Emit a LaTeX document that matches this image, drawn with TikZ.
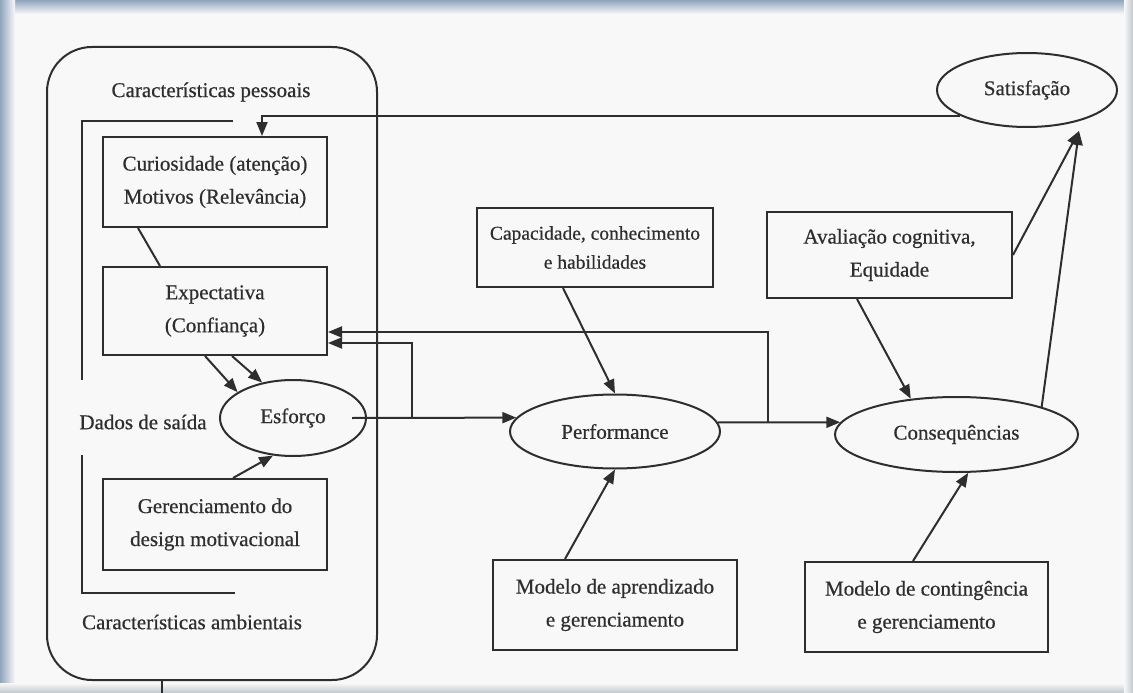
\documentclass[tikz,border=0pt]{standalone}
\usepackage{fontspec}
\setmainfont{Liberation Serif}[FakeBold=0.6]
\usetikzlibrary{shapes.geometric,arrows.meta,calc}
\definecolor{ink}{HTML}{2E2E2E}
\definecolor{paper}{HTML}{F8F8F8}
\definecolor{edgeblue}{HTML}{8FA5BE}
\definecolor{edgegray}{HTML}{C2C7CD}
\begin{document}
\begin{tikzpicture}[x=1pt,y=-1pt,
  ln/.style={draw=ink,line width=2pt},
  arr/.style={ln,-{Triangle[length=14pt,width=11pt]}},
  box/.style={draw=ink,line width=2pt,rectangle,align=center,inner sep=0pt,text=ink,font=\fontsize{21}{33}\selectfont},
  oval/.style={draw=ink,line width=2pt,ellipse,inner sep=0pt,text=ink,font=\fontsize{21}{25}\selectfont},
  lbl/.style={text=ink,inner sep=0pt,font=\fontsize{21}{25}\selectfont}]
\useasboundingbox (0,0) rectangle (1133,693);
% page frame
\fill[paper] (0,0) rectangle (1133,693);
\shade[top color=edgeblue,bottom color=paper] (0,0) rectangle (1133,14);
\shade[left color=edgeblue,right color=paper] (0,0) rectangle (15,693);
\shade[top color=paper,bottom color=edgegray] (0,683) rectangle (1133,693);
\shade[left color=paper,right color=edgegray] (1124,0) rectangle (1133,693);

% container
\node[draw=ink,line width=2pt,rounded corners=45pt,minimum width=330pt,minimum height=633pt,inner sep=0pt] (outer) at (212,363.5) {};
\draw[ln] ([xshift=-50pt]outer.south) -- ++(0,13);
\draw[ln] (233,121) -- (82,121) -- (82,380);
\draw[ln] (82,455) -- (82,593) -- (235,593);

\node[lbl] (pess) at (211,92) {Características pessoais};
\node[lbl] (amb) at (192,622) {Características ambientais};
\node[lbl] (dados) at (143,422) {Dados de saída};

% boxes
\node[box,minimum width=224pt,minimum height=90pt] (curi) at (215,182) {Curiosidade (atenção)\\Motivos (Relevância)};
\node[box,minimum width=224pt,minimum height=88pt] (expe) at (215,311) {Expectativa\\(Confiança)};
\node[box,minimum width=224pt,minimum height=91pt] (gere) at (215,524.5) {Gerenciamento do\\design motivacional};
\node[box,minimum width=236pt,minimum height=79pt,font=\fontsize{19.5}{29}\selectfont] (capa) at (595,247.5) {Capacidade, conhecimento\\e habilidades};
\node[box,minimum width=245pt,minimum height=86pt] (aval) at (889.5,255) {Avaliação cognitiva,\\Equidade};
\node[box,minimum width=244pt,minimum height=90pt] (mapr) at (615,605) {Modelo de aprendizado\\e gerenciamento};
\node[box,minimum width=243pt,minimum height=90pt] (mcon) at (926.5,607) {Modelo de contingência\\e gerenciamento};

% ellipses
\node[oval,minimum width=180pt,minimum height=74pt] (sat) at (1027,90) {Satisfação};
\node[oval,minimum width=146pt,minimum height=76pt] (esf) at (293,418) {\raisebox{4pt}{Esforço}};
\node[oval,minimum width=210pt,minimum height=74pt] (perf) at (615,431.5) {Performance};
\node[oval,minimum width=243pt,minimum height=75pt] (cons) at (956.5,434.5) {Consequências};

% junctions
\coordinate (j1) at (412,418);
\coordinate (j2) at (768,422);
\coordinate (satin) at ([xshift=52pt,yshift=-41pt]sat.center);

% connectors
\draw[arr] (sat.201) -| ([xshift=47pt]curi.north);
\draw[ln] ([xshift=-77pt]curi.south) -- ([xshift=-55pt]expe.north);
\draw[arr] ([xshift=-10pt]expe.south) -- (esf.155);
\draw[arr] ([xshift=17pt]expe.south) -- (esf.131);
\draw[arr] ([xshift=18pt]gere.north) -- (esf.242);
\draw[arr] ([xshift=59pt]esf.center) -- (perf.172);
\draw[arr] (j1) |- ([yshift=-32pt]expe.east);
\draw[arr] (perf.5) -- (cons.174);
\draw[arr] (j2) |- ([yshift=-21pt]expe.east);
\draw[arr] ([xshift=-32pt]capa.south) -- (perf.north);
\draw[arr] ([xshift=-50pt]mapr.north) -- (perf.south);
\draw[arr] ([xshift=-32.5pt]aval.south) -- (cons.142);
\draw[arr] ([xshift=-13.5pt]mcon.north) -- (cons.287);
\draw[arr] (aval.east) -- (satin);
\draw[arr] (cons.18) -- (satin);
\end{tikzpicture}
\end{document}
